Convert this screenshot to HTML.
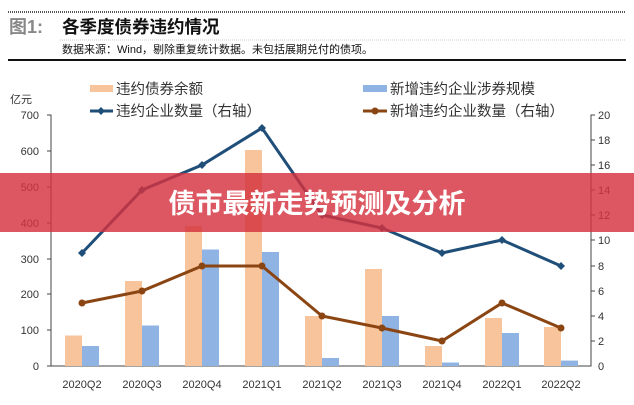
<!DOCTYPE html><html><head><meta charset="utf-8"><style>
body{margin:0;width:634px;height:400px;background:#fff;overflow:hidden;font-family:"Liberation Sans","Noto Sans CJK SC",sans-serif;}
</style></head><body>
<svg width="634" height="400" xmlns="http://www.w3.org/2000/svg" font-family="Liberation Sans, Noto Sans CJK SC, sans-serif">
<line x1="8" y1="12" x2="626" y2="12" stroke="#555" stroke-width="2" stroke-dasharray="1,1"/>
<text x="9" y="33" font-size="18" fill="#888" font-weight="bold">图1:</text>
<text x="62" y="33" font-size="17.5" fill="#111" font-weight="bold">各季度债券违约情况</text>
<line x1="60" y1="40" x2="626" y2="40" stroke="#999" stroke-width="0.6" stroke-dasharray="1,1"/>
<text x="62" y="53" font-size="11" fill="#111">数据来源：Wind，剔除重复统计数据。未包括展期兑付的债项。</text>
<line x1="8" y1="60" x2="626" y2="60" stroke="#111" stroke-width="2"/>
<rect x="90" y="85" width="23" height="7" fill="#f8c49c"/><text x="116" y="94" font-size="14.5" fill="#333">违约债券余额</text>
<rect x="363" y="85" width="24" height="7" fill="#8fb4e3"/><text x="390" y="94" font-size="14.5" fill="#333">新增违约企业涉券规模</text>
<line x1="90" y1="111" x2="113" y2="111" stroke="#1f4e79" stroke-width="3"/><path d="M101 107l4 4-4 4-4-4z" fill="#1f4e79"/><text x="116" y="116" font-size="14.5" fill="#333">违约企业数量（右轴）</text>
<line x1="363" y1="111" x2="387" y2="111" stroke="#8b4513" stroke-width="3"/><circle cx="375" cy="111" r="3.5" fill="#8b4513"/><text x="390" y="116" font-size="14.5" fill="#333">新增违约企业数量（右轴）</text>
<text x="10" y="103" font-size="11" fill="#333">亿元</text>
<g font-size="11" fill="#333" text-anchor="end">
<text x="39" y="119">700</text><text x="39" y="155">600</text><text x="39" y="191">500</text><text x="39" y="227">400</text><text x="39" y="263">300</text><text x="39" y="298">200</text><text x="39" y="334">100</text><text x="39" y="370">0</text></g>
<g font-size="11" fill="#333">
<text x="598" y="119">20</text><text x="598" y="144">18</text><text x="598" y="169">16</text><text x="598" y="194">14</text><text x="598" y="219">12</text><text x="598" y="244">10</text><text x="598" y="270">8</text><text x="598" y="295">6</text><text x="598" y="320">4</text><text x="598" y="345">2</text><text x="598" y="370">0</text></g>
<g stroke="#444" stroke-width="1" fill="none">
<path d="M47 115H51V366H591V115H595"/>
<path d="M47 151H51M47 187H51M47 223H51M47 259H51M47 294H51M47 330H51M47 366H51"/>
<path d="M591 140H595M591 165H595M591 190H595M591 215H595M591 240H595M591 266H595M591 291H595M591 316H595M591 341H595"/>
</g>
<g fill="#f8c49c">
<rect x="65" y="335.5" width="17" height="30.5"/><rect x="125" y="281" width="17" height="85"/><rect x="185" y="226" width="17" height="140"/><rect x="245" y="150" width="17" height="216"/><rect x="305" y="316" width="17" height="50"/><rect x="365" y="269" width="17" height="97"/><rect x="425" y="346" width="17" height="20"/><rect x="485" y="318" width="17" height="48"/><rect x="544" y="327" width="17" height="39"/></g>
<g fill="#8fb4e3">
<rect x="82" y="346" width="17" height="20"/><rect x="142" y="325.5" width="17" height="40.5"/><rect x="202" y="249.5" width="17" height="116.5"/><rect x="262" y="252" width="17" height="114"/><rect x="322" y="358" width="17" height="8"/><rect x="382" y="316" width="17" height="50"/><rect x="442" y="362.5" width="17" height="3.5"/><rect x="502" y="333" width="17" height="33"/><rect x="561" y="360.6" width="17" height="5.4"/></g>
<polyline points="82,253 142,190 202,165 262,128 322,215 382,228 442,253 502,240 561,266" fill="none" stroke="#1f4e79" stroke-width="3"/>
<g fill="#1f4e79"><path d="M82 249l4 4-4 4-4-4z"/><path d="M142 186l4 4-4 4-4-4z"/><path d="M202 161l4 4-4 4-4-4z"/><path d="M262 124l4 4-4 4-4-4z"/><path d="M322 211l4 4-4 4-4-4z"/><path d="M382 224l4 4-4 4-4-4z"/><path d="M442 249l4 4-4 4-4-4z"/><path d="M502 236l4 4-4 4-4-4z"/><path d="M561 262l4 4-4 4-4-4z"/></g>
<polyline points="82,303 142,291 202,266 262,266 322,316 382,328 442,341 502,303 561,328" fill="none" stroke="#8b4513" stroke-width="3"/>
<g fill="#8b4513"><circle cx="82" cy="303" r="3.5"/><circle cx="142" cy="291" r="3.5"/><circle cx="202" cy="266" r="3.5"/><circle cx="262" cy="266" r="3.5"/><circle cx="322" cy="316" r="3.5"/><circle cx="382" cy="328" r="3.5"/><circle cx="442" cy="341" r="3.5"/><circle cx="502" cy="303" r="3.5"/><circle cx="561" cy="328" r="3.5"/></g>
<g font-size="11" fill="#333" text-anchor="middle">
<text x="82" y="388">2020Q2</text><text x="142" y="388">2020Q3</text><text x="202" y="388">2020Q4</text><text x="262" y="388">2021Q1</text><text x="322" y="388">2021Q2</text><text x="382" y="388">2021Q3</text><text x="442" y="388">2021Q4</text><text x="502" y="388">2022Q1</text><text x="561" y="388">2022Q2</text></g>
<rect x="0" y="173" width="634" height="59" fill="rgb(212,50,62)" fill-opacity="0.82"/>
<text x="317" y="213" font-size="27" font-weight="bold" fill="#fff" text-anchor="middle">债市最新走势预测及分析</text>
</svg>
</body></html>
